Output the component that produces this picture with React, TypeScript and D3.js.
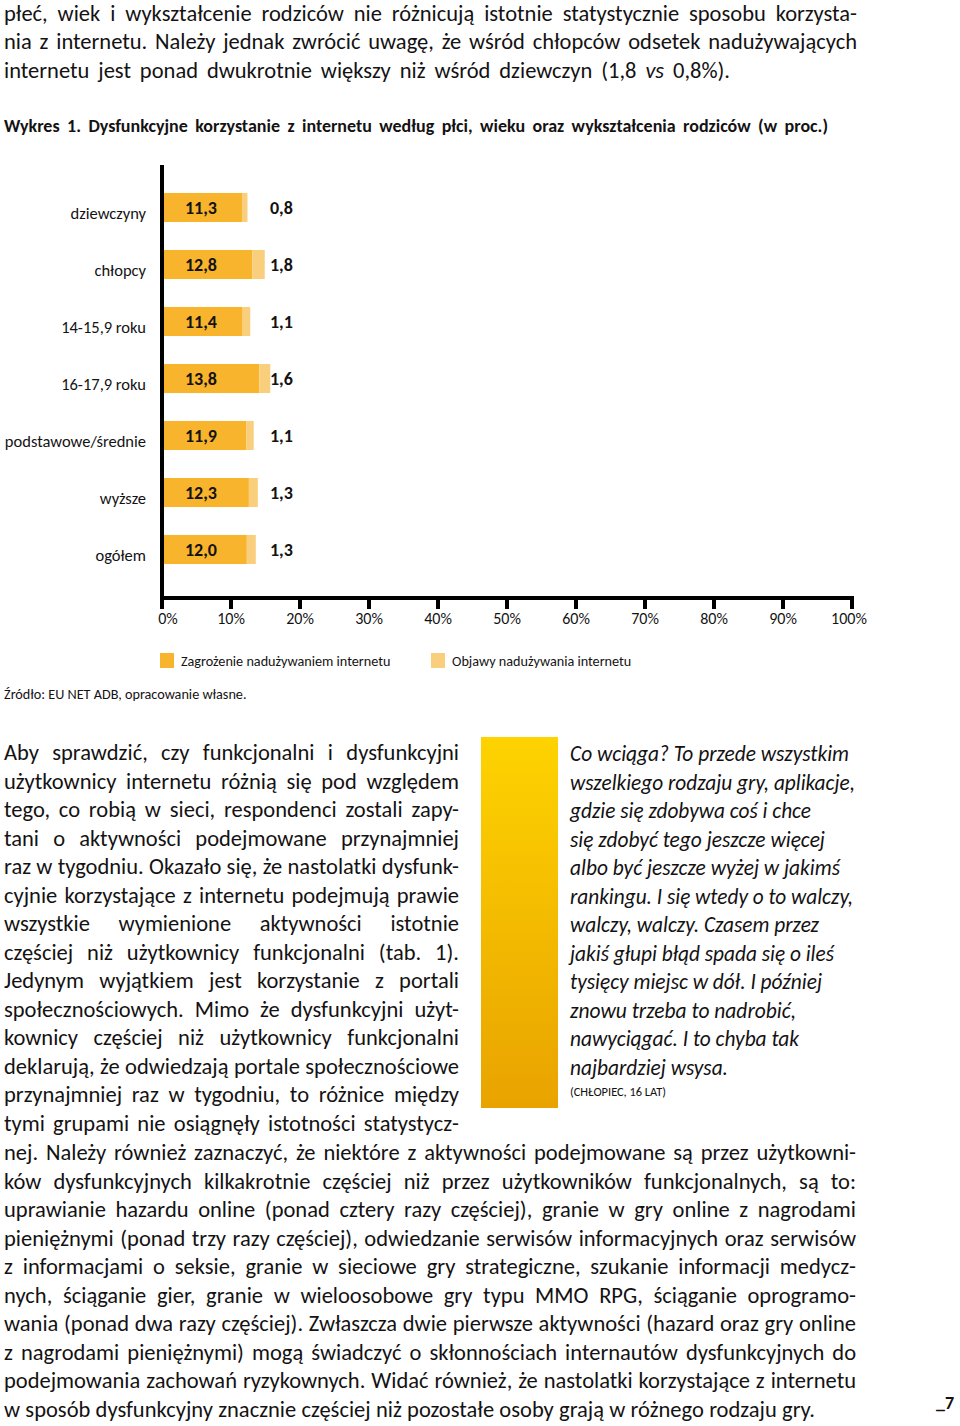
import * as d3 from 'd3';
import { useEffect, useRef } from 'react';

// --- dane wykresu ---
const categories = ['dziewczyny', 'chłopcy', '14-15,9 roku', '16-17,9 roku', 'podstawowe/średnie', 'wyższe', 'ogółem'];
const riskValues = [11.3, 12.8, 11.4, 13.8, 11.9, 12.3, 12.0];      // Zagrożenie nadużywaniem
const symptomValues = [0.8, 1.8, 1.1, 1.6, 1.1, 1.3, 1.3];          // Objawy nadużywania
const seriesNames = ['Zagrożenie nadużywaniem internetu', 'Objawy nadużywania internetu'];
const tickValues = [0, 10, 20, 30, 40, 50, 60, 70, 80, 90, 100];

// --- tekst strony ---
const introLines = [
  'płeć, wiek i wykształcenie rodziców nie różnicują istotnie statystycznie sposobu korzysta-',
  'nia z internetu. Należy jednak zwrócić uwagę, że wśród chłopców odsetek nadużywających',
  'internetu jest ponad dwukrotnie większy niż wśród dziewczyn (1,8 *vs* 0,8%).',
];
const leftLines = [
  'Aby sprawdzić, czy funkcjonalni i dysfunkcyjni',
  'użytkownicy internetu różnią się pod względem',
  'tego, co robią w sieci, respondenci zostali zapy-',
  'tani o aktywności podejmowane przynajmniej',
  'raz w tygodniu. Okazało się, że nastolatki dysfunk-',
  'cyjnie korzystające z internetu podejmują prawie',
  'wszystkie wymienione aktywności istotnie',
  'częściej niż użytkownicy funkcjonalni (tab. 1).',
  'Jedynym wyjątkiem jest korzystanie z portali',
  'społecznościowych. Mimo że dysfunkcyjni użyt-',
  'kownicy częściej niż użytkownicy funkcjonalni',
  'deklarują, że odwiedzają portale społecznościowe',
  'przynajmniej raz w tygodniu, to różnice między',
  'tymi grupami nie osiągnęły istotności statystycz-',
];
const wideLines = [
  'nej. Należy również zaznaczyć, że niektóre z aktywności podejmowane są przez użytkowni-',
  'ków dysfunkcyjnych kilkakrotnie częściej niż przez użytkowników funkcjonalnych, są to:',
  'uprawianie hazardu online (ponad cztery razy częściej), granie w gry online z nagrodami',
  'pieniężnymi (ponad trzy razy częściej), odwiedzanie serwisów informacyjnych oraz serwisów',
  'z informacjami o seksie, granie w sieciowe gry strategiczne, szukanie informacji medycz-',
  'nych, ściąganie gier, granie w wieloosobowe gry typu MMO RPG, ściąganie oprogramo-',
  'wania (ponad dwa razy częściej). Zwłaszcza dwie pierwsze aktywności (hazard oraz gry online',
  'z nagrodami pieniężnymi) mogą świadczyć o skłonnościach internautów dysfunkcyjnych do',
  'podejmowania zachowań ryzykownych. Widać również, że nastolatki korzystające z internetu',
  'w sposób dysfunkcyjny znacznie częściej niż pozostałe osoby grają w różnego rodzaju gry.',
];
const quoteLines = [
  'Co wciąga? To przede wszystkim',
  'wszelkiego rodzaju gry, aplikacje,',
  'gdzie się zdobywa coś i chce',
  'się zdobyć tego jeszcze więcej',
  'albo być jeszcze wyżej w jakimś',
  'rankingu. I się wtedy o to walczy,',
  'walczy, walczy. Czasem przez',
  'jakiś głupi błąd spada się o ileś',
  'tysięcy miejsc w dół. I później',
  'znowu trzeba to nadrobić,',
  'nawyciągać. I to chyba tak',
  'najbardziej wsysa.',
];
const quoteEnds = [849, 855, 811, 825, 840, 853, 819, 834, 822, 796, 799, 728];

const FONT = "Carlito, Lato, 'Open Sans', sans-serif";
const INK = '#141213';
const C_RISK = '#f7b42c';
const C_SYMPT = '#f9cf7d';

let ctx: CanvasRenderingContext2D | null = null;
function measure(text: string, font: string) {
  if (!ctx) ctx = document.createElement('canvas').getContext('2d');
  ctx!.font = font;
  return ctx!.measureText(text).width;
}

// dzieli "*...*" na kursywę
function parse(text: string) {
  return text.split('*').map((t, i) => ({ t, it: i % 2 === 1 })).filter(s => s.t.length);
}

// linia tekstu wyrównana do zadanej szerokości (odstępy między słowami albo ściśnięcie)
function FitLine({ x, y, text, size, width, weight = 'normal', italic = false }: any) {
  const segs = parse(text);
  const natural = d3.sum(segs, s => measure(s.t, `${s.it || italic ? 'italic' : 'normal'} ${weight} ${size}px ${FONT}`));
  const spaces = (text.match(/ /g) || []).length;
  const extra: any = {};
  if (natural > width) {
    extra.textLength = width;
    extra.lengthAdjust = 'spacingAndGlyphs';
  } else if (spaces > 0) {
    extra.style = { wordSpacing: `${(width - natural) / spaces}px` };
  }
  return (
    <text x={x} y={y} fontSize={size} fontFamily={FONT} fontWeight={weight}
      fontStyle={italic ? 'italic' : 'normal'} fill={INK} {...extra}>
      {segs.map((s, i) => (
        <tspan key={i} fontStyle={s.it || italic ? 'italic' : 'normal'}>{s.t}</tspan>
      ))}
    </text>
  );
}

function Chart() {
  const ref = useRef<SVGGElement>(null);

  const x = d3.scaleLinear().domain([0, 100]).range([162, 852]);
  const y = d3.scaleBand().domain(categories).range([179, 578]).paddingInner(0.49).paddingOuter(0.245);
  const table = categories.map((c, i) => ({ cat: c, risk: riskValues[i], sympt: symptomValues[i] }));
  const stack = d3.stack<any>().keys(['risk', 'sympt'])(table);
  const colors = [C_RISK, C_SYMPT];
  const fmt = (v: number) => d3.format('.1f')(v).replace('.', ',');

  useEffect(() => {
    const g = d3.select(ref.current);
    g.selectAll('*').remove();
    // oś X
    g.append('line').attr('x1', x(0) - 2).attr('x2', x(100) + 2).attr('y1', 598).attr('y2', 598)
      .attr('stroke', '#000').attr('stroke-width', 4);
    g.selectAll('.tick').data(tickValues).enter().append('line')
      .attr('x1', d => x(d)).attr('x2', d => x(d)).attr('y1', 598).attr('y2', 609)
      .attr('stroke', '#000').attr('stroke-width', 4);
    g.selectAll('.tl').data(tickValues).enter().append('text')
      .attr('x', d => x(d) + (d === 0 ? 6 : d === 100 ? -3 : 0)).attr('y', 624)
      .attr('text-anchor', 'middle').attr('font-family', FONT).attr('font-size', 16)
      .attr('fill', INK).text(d => d + '%');
    // oś Y
    g.append('line').attr('x1', x(0)).attr('x2', x(0)).attr('y1', 165).attr('y2', 600)
      .attr('stroke', '#000').attr('stroke-width', 4);
  });

  return (
    <g>
      {stack.map((layer, li) => (
        <g key={li} fill={colors[li]}>
          {layer.map((d: any, i) => (
            <rect key={i} x={x(d[0]) + 2} y={y(d.data.cat)} width={x(d[1]) - x(d[0])} height={y.bandwidth()} />
          ))}
        </g>
      ))}
      {categories.map((c, i) => (
        <g key={c} fontFamily={FONT} fill={INK}>
          <text x={146} y={y(c)! + y.bandwidth() / 2 + 11} textAnchor="end" fontSize={16.5}>{c}</text>
          <text x={x(0) + 39} y={y(c)! + y.bandwidth() / 2 + 6} textAnchor="middle" fontSize={18} fontWeight="bold">{fmt(riskValues[i])}</text>
          <text x={270} y={y(c)! + y.bandwidth() / 2 + 6} fontSize={18} fontWeight="bold">{fmt(symptomValues[i])}</text>
        </g>
      ))}
      <g ref={ref} />
      {seriesNames.map((s, i) => (
        <g key={s} transform={`translate(${[160, 431][i]},653)`}>
          <rect width={14} height={15} fill={colors[i]} />
          <text x={21} y={13} fontFamily={FONT} fontSize={14.2} fill={INK}>{s}</text>
        </g>
      ))}
    </g>
  );
}

export default function App() {
  const LH = 28.5;
  return (
    <svg width={960} height={1426} style={{ position: 'absolute', left: 0, top: 0, background: '#fff' }}>
      <defs>
        <linearGradient id="qgrad" x1="0" y1="0" x2="0" y2="1">
          <stop offset="0" stopColor="#fed300" />
          <stop offset="1" stopColor="#e9a300" />
        </linearGradient>
      </defs>

      {introLines.map((t, i) => (
        <FitLine key={i} x={4} y={20.5 + i * LH} text={t} size={22.5} width={i < 2 ? 853 : 726} />
      ))}

      <FitLine x={4} y={132} text="Wykres 1. Dysfunkcyjne korzystanie z internetu według płci, wieku oraz wykształcenia rodziców (w proc.)"
        size={18} width={824} weight="bold" />

      <Chart />

      <text x={4} y={699} fontFamily={FONT} fontSize={14.2} fill={INK}>Źródło: EU NET ADB, opracowanie własne.</text>

      {leftLines.map((t, i) => (
        <FitLine key={i} x={4} y={760 + i * LH} text={t} size={22.5} width={455} />
      ))}

      <rect x={481} y={737} width={77} height={371} fill="url(#qgrad)" />
      {quoteLines.map((t, i) => (
        <FitLine key={i} x={570} y={761 + i * LH} text={t} size={21.5} width={quoteEnds[i] - 570} italic />
      ))}
      <text x={570} y={1096} fontFamily={FONT} fontSize={12.4} fill={INK}>(CHŁOPIEC, 16 LAT)</text>

      {wideLines.map((t, i) => (
        <FitLine key={i} x={4} y={1160 + i * LH} text={t} size={22.5} width={i < 9 ? 852 : 811} />
      ))}

      <text x={936} y={1409} fontFamily={FONT} fontSize={18} fontWeight="bold" fill={INK}>_7</text>
    </svg>
  );
}
